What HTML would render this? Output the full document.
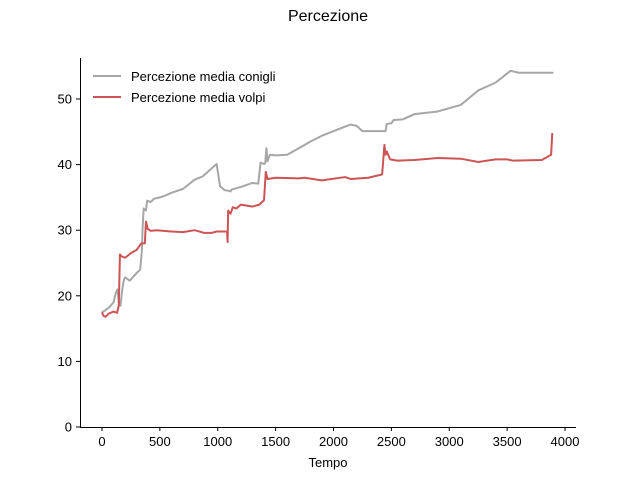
<!DOCTYPE html>
<html><head><meta charset="utf-8"><style>body{margin:0;background:#fff}svg{display:block;font-family:"Liberation Sans","DejaVu Sans",sans-serif}</style></head>
<body>
<svg id="chart" width="640" height="480" viewBox="0 0 640 480" xmlns="http://www.w3.org/2000/svg">
<rect width="640" height="480" fill="#fff"/>
<text x="328" y="21" text-anchor="middle" font-size="16">Percezione</text>
<g id="axes"></g>
<g id="series"></g>
<g>
<line x1="93" y1="76" x2="121" y2="76" stroke="#a6a6a6" stroke-width="2"/>
<text x="131" y="81" font-size="13">Percezione media conigli</text>
<line x1="93" y1="97" x2="121" y2="97" stroke="#cd5454" stroke-width="2"/>
<text x="131" y="102" font-size="13">Percezione media volpi</text>
</g>
<text x="328" y="467" text-anchor="middle" font-size="13">Tempo</text>
</svg>
<script>
const xTicks=[0,500,1000,1500,2000,2500,3000,3500,4000];
const yTicks=[0,10,20,30,40,50];
const rabbitT=[0,30,60,100,120,135,145,160,175,190,200,240,300,330,345,350,360,380,390,420,450,500,550,600,700,800,870,990,1020,1060,1100,1110,1120,1200,1300,1350,1370,1400,1410,1420,1430,1450,1500,1600,1700,1800,1900,2100,2150,2200,2250,2450,2460,2500,2520,2600,2700,2900,3100,3250,3400,3530,3600,3900];
const rabbitV=[17.5,17.8,18.2,19,20.5,21,19,18.5,21,22.5,22.8,22.3,23.5,24,27,30,33.3,33,34.5,34.3,34.8,35,35.3,35.7,36.3,37.7,38.2,40.1,36.7,36.1,36,35.9,36.2,36.6,37.2,37.1,40.3,40.1,40.2,42.5,40.5,41.5,41.4,41.5,42.5,43.5,44.4,45.8,46.1,45.9,45.1,45.1,46.2,46.3,46.8,46.9,47.7,48.1,49.1,51.3,52.5,54.3,54,54];
const foxT=[0,10,30,60,100,130,145,155,170,200,250,300,320,340,370,380,395,420,470,600,700,800,880,950,990,1080,1085,1090,1110,1130,1160,1200,1300,1360,1400,1410,1415,1430,1500,1700,1750,1900,2100,2150,2300,2420,2440,2450,2460,2490,2550,2700,2900,3100,3250,3400,3500,3550,3800,3880,3890];
const foxV=[17.5,17,16.8,17.3,17.6,17.4,18.5,26.3,26,25.8,26.5,27,27.5,28,28,31.3,30.2,29.9,30,29.8,29.7,30,29.6,29.6,29.8,29.8,28.2,33,32.5,33.5,33.3,33.9,33.6,33.9,34.6,37.5,38.9,37.8,38,37.9,38,37.6,38.1,37.8,38,38.5,43,41.5,42,40.8,40.6,40.7,41,40.9,40.4,40.8,40.8,40.6,40.7,41.5,44.8];
const X=t=>102+t*0.11575, Y=v=>427-v*6.56;
const NS='http://www.w3.org/2000/svg';
const ax=document.getElementById('axes'), se=document.getElementById('series');
function mk(tag,at,parent){const e=document.createElementNS(NS,tag);for(const k in at)e.setAttribute(k,at[k]);parent.appendChild(e);return e;}
let l=mk('line',{x1:80.5,y1:58,x2:80.5,y2:427.5,stroke:'#000','stroke-width':1},ax);


l=mk('line',{x1:80,y1:427.5,x2:576,y2:427.5,stroke:'#000','stroke-width':1},ax);


xTicks.forEach(t=>{const x=X(t);
 mk('line',{x1:x,y1:427,x2:x,y2:431,stroke:'#000'},ax);
 const tx=mk('text',{x:x,y:446,'text-anchor':'middle','font-size':13},ax);tx.textContent=t;
 
 });
yTicks.forEach(v=>{const y=Y(v);
 mk('line',{x1:76,y1:y,x2:80,y2:y,stroke:'#000'},ax);
 const tx=mk('text',{x:72,y:y+4.5,'text-anchor':'end','font-size':13},ax);tx.textContent=v;
 
 });
function line(T,V,c,name){const p=mk('polyline',{points:T.map((t,i)=>X(t)+','+Y(V[i])).join(' '),fill:'none',stroke:c,'stroke-width':2,'stroke-linejoin':'round'},se);
 
 }
line(rabbitT,rabbitV,'#a6a6a6','line-conigli');
line(foxT,foxV,'#cd5454','line-volpi');
</script>
</body></html>
